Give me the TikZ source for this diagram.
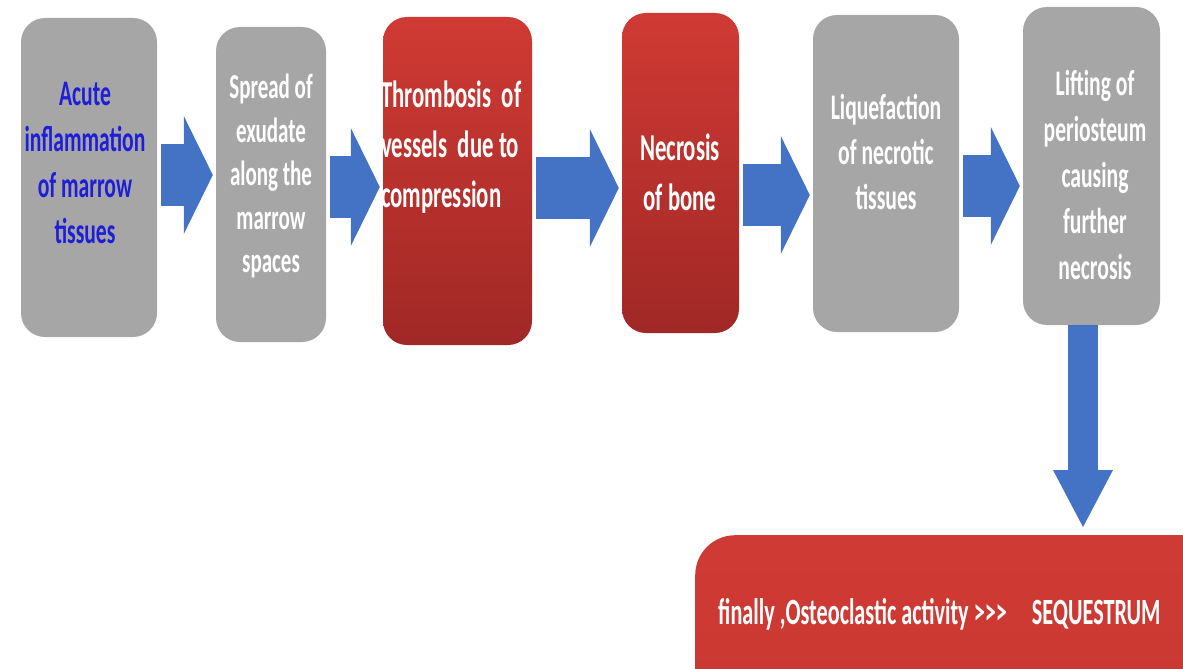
\documentclass[tikz,border=0pt]{standalone}
\usepackage{fontspec}
\setmainfont{Carlito}[FakeStretch=0.6]
\usetikzlibrary{positioning}
\usetikzlibrary{calc}
\usetikzlibrary{arrows.meta}
\definecolor{boxgray}{RGB}{166,166,166}
\definecolor{redtop}{RGB}{208,58,52}
\definecolor{redbot}{RGB}{160,40,38}
\definecolor{flowblue}{RGB}{68,114,196}
\definecolor{txtblue}{RGB}{30,30,215}
\tikzset{
	graybox/.style={fill=boxgray, rounded corners=24pt, inner sep=0pt},
	redbox/.style={top color=redtop, bottom color=redbot, rounded corners=24pt, inner sep=0pt},
	boxtxt/.style={text=white, align=center, inner sep=0pt, font=\bfseries\fontsize{36}{45}\selectfont},
	flow/.style={draw=flowblue, line width=62pt, -{Triangle[length=29pt,width=118pt,line width=0pt]}, shorten <=4pt, shorten >=3pt}
}

\begin{document}
\begin{tikzpicture}[x=1pt,y=-1pt]
		\useasboundingbox (0,0) rectangle (1183,669);
		\clip (0,0) rectangle (1183,669);
		% boxes
		\node[graybox, minimum width=136pt, minimum height=319pt] (acute) at (89,177.5) {};
		\node[graybox, minimum width=110pt, minimum height=315pt] (spread) at (271,184.5) {};
		\node[redbox, minimum width=149pt, minimum height=328pt] (thromb) at (457.5,181) {};
		\node[redbox, minimum width=117pt, minimum height=320pt] (necro) at (680.5,173) {};
		\node[graybox, minimum width=146pt, minimum height=317pt] (liquef) at (886,173.5) {};
		\node[graybox, minimum width=137pt, minimum height=318pt] (lift) at (1091.5,166) {};
		\node[redbox, bottom color=redtop!85!redbot, rounded corners=40pt, minimum width=560pt, 
		minimum height=200pt, anchor=north west] (final) at (695,535) {};
		% texts
		\node[boxtxt, text=txtblue, font=\bfseries\fontsize{36}{46}\selectfont] (acute-txt) at (85,163) 
		{Acute\\inflammation\\of marrow\\tissues};
		\node[boxtxt, font=\bfseries\fontsize{35}{43.5}\selectfont] (spread-txt) at (271,176) 
		{Spread of\\exudate\\along the\\marrow\\spaces};
		\node[boxtxt, align=left, anchor=west, font=\bfseries\fontsize{38}{50}\selectfont] (thromb-txt) at (381,147) 
		{Thrombosis~ of\\vessels~ due to\\compression};
		\node[boxtxt, font=\bfseries\fontsize{38}{50}\selectfont] (necro-txt) at (680,172) {Necrosis\\of bone};
		\node[boxtxt] (liquef-txt) at (886,152) {Liquefaction\\of necrotic\\tissues};
		\node[boxtxt, font=\bfseries\fontsize{36}{46}\selectfont] (lift-txt) at (1095,175) 
		{Lifting of\\periosteum\\causing\\further\\necrosis};
		\node[boxtxt, anchor=west, font=\bfseries\fontsize{37}{45}\selectfont] (final-txt) at (718,614) 
		{finally ,Osteoclastic activity \mbox{>}\mbox{>}\mbox{>}\hspace{25pt}SEQUESTRUM};
		% arrows
		\draw[flow] (acute.east |- 0,175) -- (spread.west |- 0,175);
		\draw[flow] (spread.east |- 0,187) -- (thromb.west |- 0,187);
		\draw[flow] (thromb.east |- 0,188) -- (necro.west |- 0,188);
		\draw[flow] (necro.east |- 0,195) -- (liquef.west |- 0,195);
		\draw[flow] (liquef.east |- 0,186) -- (lift.west |- 0,186);
		\draw[flow, line width=30pt, -{Triangle[length=57pt,width=60pt,line width=0pt]}, shorten <=0pt, 
		shorten >=8pt] ([xshift=-8.5pt]lift.south) -- ([xshift=-8.5pt]lift.south |- final.north);
	\end{tikzpicture}
\end{document}
